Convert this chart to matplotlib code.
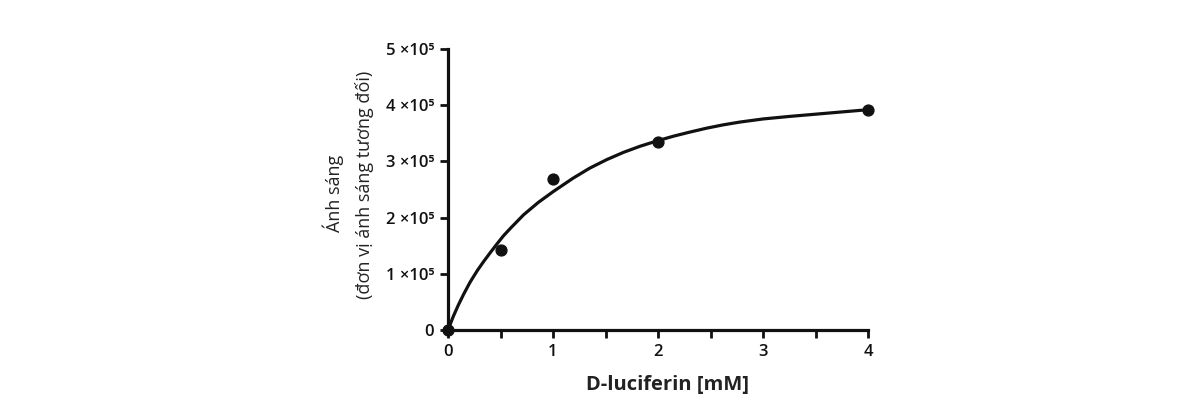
import matplotlib
matplotlib.use("Agg")
import matplotlib.pyplot as plt

plt.rcParams['font.family'] = ['Open Sans', 'DejaVu Sans']

# measured data points
conc_mM = [0, 0.5, 1, 2, 4]
light = [0, 1.43e5, 2.69e5, 3.35e5, 3.92e5]

# fitted curve
curve_x = [0, 0.05, 0.1, 0.15, 0.21, 0.28, 0.34, 0.40, 0.47, 0.53, 0.60, 0.72, 0.86,
           1.0, 1.19, 1.35, 1.51, 1.67, 1.83, 2.0, 2.15, 2.3, 2.46, 2.62, 2.78,
           3.0, 3.25, 3.5, 3.75, 4.0]
curve_y = [0, 0.24e5, 0.45e5, 0.64e5, 0.85e5, 1.06e5, 1.22e5, 1.37e5, 1.54e5, 1.68e5,
           1.82e5, 2.05e5, 2.27e5, 2.46e5, 2.70e5, 2.88e5, 3.03e5, 3.16e5, 3.27e5,
           3.37e5, 3.45e5, 3.52e5, 3.59e5, 3.65e5, 3.70e5, 3.755e5, 3.80e5, 3.84e5,
           3.88e5, 3.92e5]

x_ticks = [0, 1, 2, 3, 4]
x_minor = [0.5, 1.5, 2.5, 3.5]
y_ticks = [0, 1e5, 2e5, 3e5, 4e5, 5e5]
y_labels = ["0", "1 ×10⁵", "2 ×10⁵", "3 ×10⁵", "4 ×10⁵", "5 ×10⁵"]

fig = plt.figure(figsize=(11.94, 4.11), dpi=100)
ax = fig.add_axes([448/1194, 81/411, 420/1194, 281/411])

ax.plot(curve_x, curve_y, color='#111111', lw=2.3, clip_on=False, zorder=3,
        solid_joinstyle='round')
ax.plot(conc_mM, light, 'o', color='#111111', ms=7.8, clip_on=False, zorder=4)

ax.set_xlim(0, 4)
ax.set_ylim(0, 5e5)
for s in ['top', 'right']:
    ax.spines[s].set_visible(False)
for s in ['left', 'bottom']:
    ax.spines[s].set_linewidth(2.3)
    ax.spines[s].set_color('#111111')

ax.set_xticks(x_ticks)
ax.set_xticks(x_minor, minor=True)
ax.set_yticks(y_ticks)
ax.set_yticklabels(y_labels)
ax.tick_params(axis='both', which='both', length=6, width=2, color='#111111',
               labelsize=12, labelcolor='#111111', pad=4)
for lab in ax.get_xticklabels() + ax.get_yticklabels():
    lab.set_fontweight('semibold')

ax.text(2.09, -0.195, "D-luciferin [mM]", transform=ax.get_xaxis_transform(),
        ha='center', va='center', fontsize=14.5, fontweight='bold', color='#222222')

fig.text(333/1194, 1 - 193/411, "Ánh sáng", rotation=90, ha='center', va='center',
         fontsize=13, color='#222222')
fig.text(365/1194, 1 - 185/411, "(đơn vị ánh sáng tương đối)", rotation=90,
         ha='center', va='center', fontsize=13, color='#222222')

fig.savefig("out.png", dpi=100)
